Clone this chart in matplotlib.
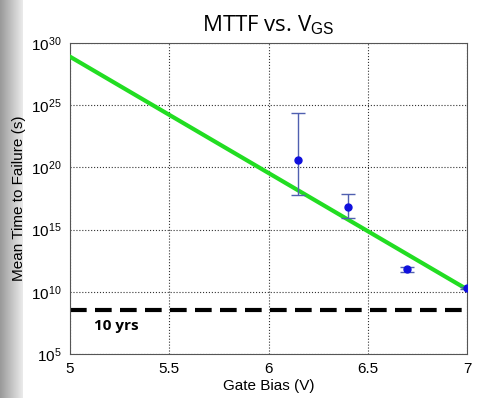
import matplotlib
matplotlib.use("Agg")
import matplotlib.pyplot as plt
import numpy as np

# fitted model line (log10 of MTTF in seconds)
fit_v = [5.0, 7.0]
fit_log_mttf = [28.9, 10.2]

# measured points with error bars (log10 s)
meas_v = [6.15, 6.40, 6.70, 7.00]
meas_log = [20.6, 16.8, 11.8, 10.3]
err_lo_log = [17.8, 15.9, 11.6, 10.2]
err_hi_log = [24.4, 17.9, 12.0, 10.4]

ten_years_s = 10 * 365.25 * 24 * 3600

xticks = [5, 5.5, 6, 6.5, 7]
yticks = [5, 10, 15, 20, 25, 30]

plt.rcParams['font.family'] = ['Liberation Sans', 'DejaVu Sans']
plt.rcParams['mathtext.fontset'] = 'custom'
plt.rcParams['mathtext.rm'] = 'Liberation Sans'
plt.rcParams['mathtext.it'] = 'Liberation Sans:italic'

fig = plt.figure(figsize=(4.92, 3.98), dpi=100)

# gray slide edge on the left
grad = np.linspace(0.6, 0.92, 50).reshape(1, -1)
bg = fig.add_axes([0, 0, 0.045, 1])
bg.imshow(grad, cmap='gray', vmin=0, vmax=1, aspect='auto', extent=[0, 1, 0, 1])
bg.axis('off')

ax = fig.add_axes([70 / 492, 1 - 354 / 398, 397 / 492, 311 / 398])

mttf = 10.0 ** np.array(meas_log)
lo = mttf - 10.0 ** np.array(err_lo_log)
hi = 10.0 ** np.array(err_hi_log) - mttf

ax.plot(fit_v, 10.0 ** np.array(fit_log_mttf), color='#22dd22', lw=3, zorder=3)
ax.errorbar(meas_v, mttf, yerr=[lo, hi], fmt='o', color='#1010dd', ms=5,
            ecolor='#5060b0', elinewidth=1, capsize=5, zorder=4)
ax.axhline(ten_years_s, color='black', lw=3, ls=(0, (4, 2)), zorder=2)
ax.text(5.12, 10 ** 7.25, '10 yrs', fontsize=11, fontweight='bold',
        ha='left', va='center', family=['Open Sans', 'DejaVu Sans'])

ax.set_yscale('log')
ax.set_xlim(5, 7)
ax.set_ylim(1e5, 1e30)
ax.set_xticks(xticks)
ax.set_xticklabels(['5', '5.5', '6', '6.5', '7'])
ax.set_yticks([10.0 ** t for t in yticks])
ax.set_yticklabels([r'$\mathregular{10^{%d}}$' % t for t in yticks])
ax.yaxis.set_minor_locator(matplotlib.ticker.NullLocator())
ax.tick_params(labelsize=11, length=0, pad=6)
ax.grid(True, color='#333333', ls=':', lw=0.8)
for s in ax.spines.values():
    s.set_color('#555555')

ax.set_xlabel('Gate Bias (V)', fontsize=11, labelpad=2)
ax.set_ylabel('Mean Time to Failure (s)', fontsize=11, labelpad=4)
ax.set_title(r'MTTF vs. V$_{\mathrm{GS}}$', fontsize=16, pad=8,
             family=['Open Sans', 'DejaVu Sans'])

fig.savefig('out.png', dpi=100)
